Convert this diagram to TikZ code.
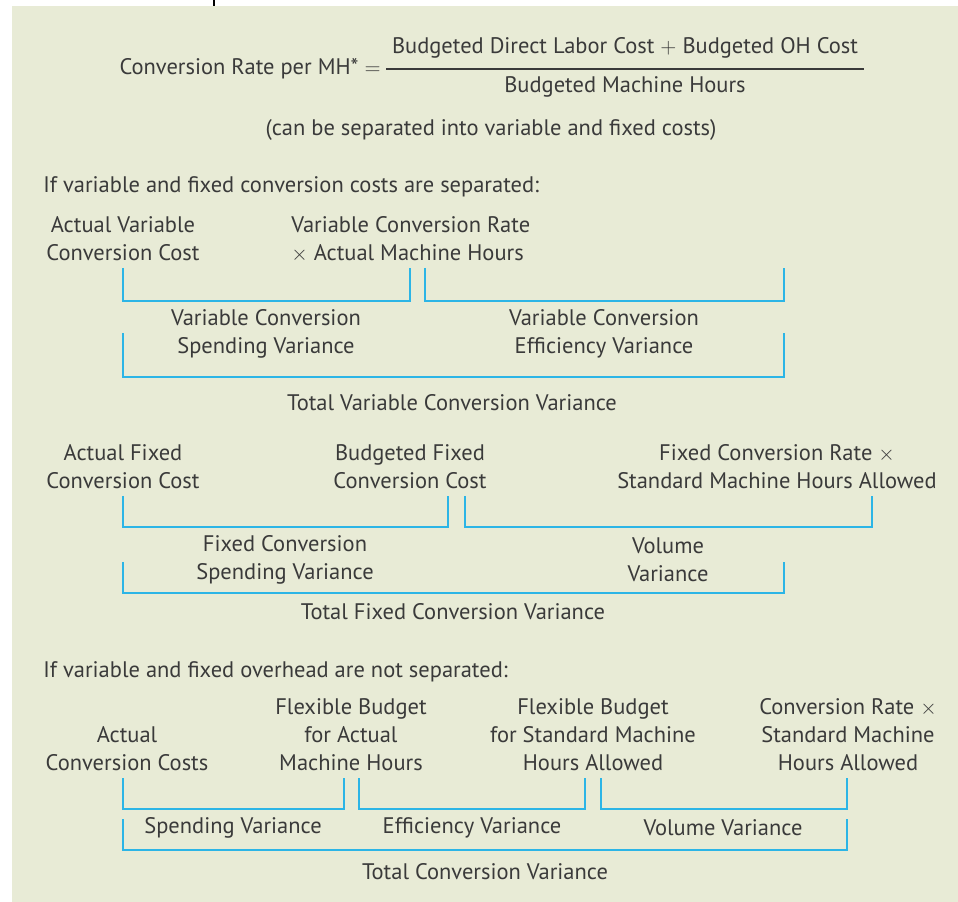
\documentclass[tikz,border=0pt]{standalone}
\usepackage{fontspec}
\setmainfont{PT Sans}
\usetikzlibrary{positioning}
\definecolor{panel}{HTML}{E8EBD6}
\definecolor{brkblue}{HTML}{2CB5E6}
\definecolor{ink}{HTML}{3A3A3A}

\begin{document}
\begin{tikzpicture}[x=0.02cm, y=-0.02cm,
        every node/.style={text=ink, inner sep=0pt, font=\fontsize{12.8}{15.9}\selectfont},
        lbl/.style={align=center},
        brk/.style={draw=brkblue, line width=1.1pt}]
        \useasboundingbox (0,0) rectangle (958,902);
        \fill[panel] (12,6) rectangle (958,902);
        \draw[black, line width=0.6pt] (214,0) -- (214,6);

        % rate formula
        \node (rate) [anchor=east] at (381,69) {Conversion Rate per MH* $=$};
        \node (num) at (625,48) {Budgeted Direct Labor Cost $+$ Budgeted OH Cost};
        \node (den) at (625,87) {Budgeted Machine Hours};
        \draw[ink, line width=0.6pt] (386,69) -- (864,69);
        \node (note) at (491,130) {(can be separated into variable and fixed costs)};

        % separated: variable part
        \node (sep) [anchor=west] at (43,187) {If variable and fixed conversion costs are separated:};
        \node[lbl] (avcc) at (123,239) {Actual Variable\\Conversion Cost};
        \node[align=left] (vcrm) [anchor=west] at (291,239) {Variable Conversion Rate\\$\times$ Actual Machine Hours};
        \draw[brk] (123,268) |- (410,301) -- (410,268);
        \draw[brk] (425,268) |- (784,301) -- (784,268);
        \node[lbl] (vspend) at (266,334) {Variable Conversion\\Spending Variance};
        \node[lbl] (veff) at (604,334) {Variable Conversion\\Efficiency Variance};
        \draw[brk] (123,333) |- (784,377) -- (784,333);
        \node (vtot) at (452,403) {Total Variable Conversion Variance};

        % separated: fixed part
        \node[lbl] (afcc) at (123,467) {Actual Fixed\\Conversion Cost};
        \node[lbl] (bfcc) at (410,467) {Budgeted Fixed\\Conversion Cost};
        \node[lbl] (fcrs) at (777,467) {Fixed Conversion Rate $\times$\\Standard Machine Hours Allowed};
        \draw[brk] (123,496) |- (448,527) -- (448,496);
        \draw[brk] (465,496) |- (872,527) -- (872,496);
        \node[lbl] (fspend) at (285,560) {Fixed Conversion\\Spending Variance};
        \node[lbl] (fvol) at (668,560) {Volume\\Variance};
        \draw[brk] (123,562) |- (784,593) -- (784,562);
        \node (ftot) at (453,612) {Total Fixed Conversion Variance};

        % not separated
        \node (nosep) [anchor=west] at (43,672) {If variable and fixed overhead are not separated:};
        \node[lbl] (acc) at (127,749) {Actual\\Conversion Costs};
        \node[lbl] (fbam) at (351,735) {Flexible Budget\\for Actual\\Machine Hours};
        \node[lbl] (fbsm) at (593,735) {Flexible Budget\\for Standard Machine\\Hours Allowed};
        \node[lbl] (crsm) at (848,735) {Conversion Rate $\times$\\Standard Machine\\Hours Allowed};
        \draw[brk] (123,778) |- (344,809) -- (344,778);
        \draw[brk] (359,778) |- (585,809) -- (585,778);
        \draw[brk] (601,778) |- (847,809) -- (847,778);
        \node (spend) at (233,828) {Spending Variance};
        \node (eff) at (472,828) {Efficiency Variance};
        \node (vol) at (723,828) {Volume Variance};
        \draw[brk] (123,819) |- (847,850) -- (847,819);
        \node (tot) at (485,872) {Total Conversion Variance};
\end{tikzpicture}
\end{document}
